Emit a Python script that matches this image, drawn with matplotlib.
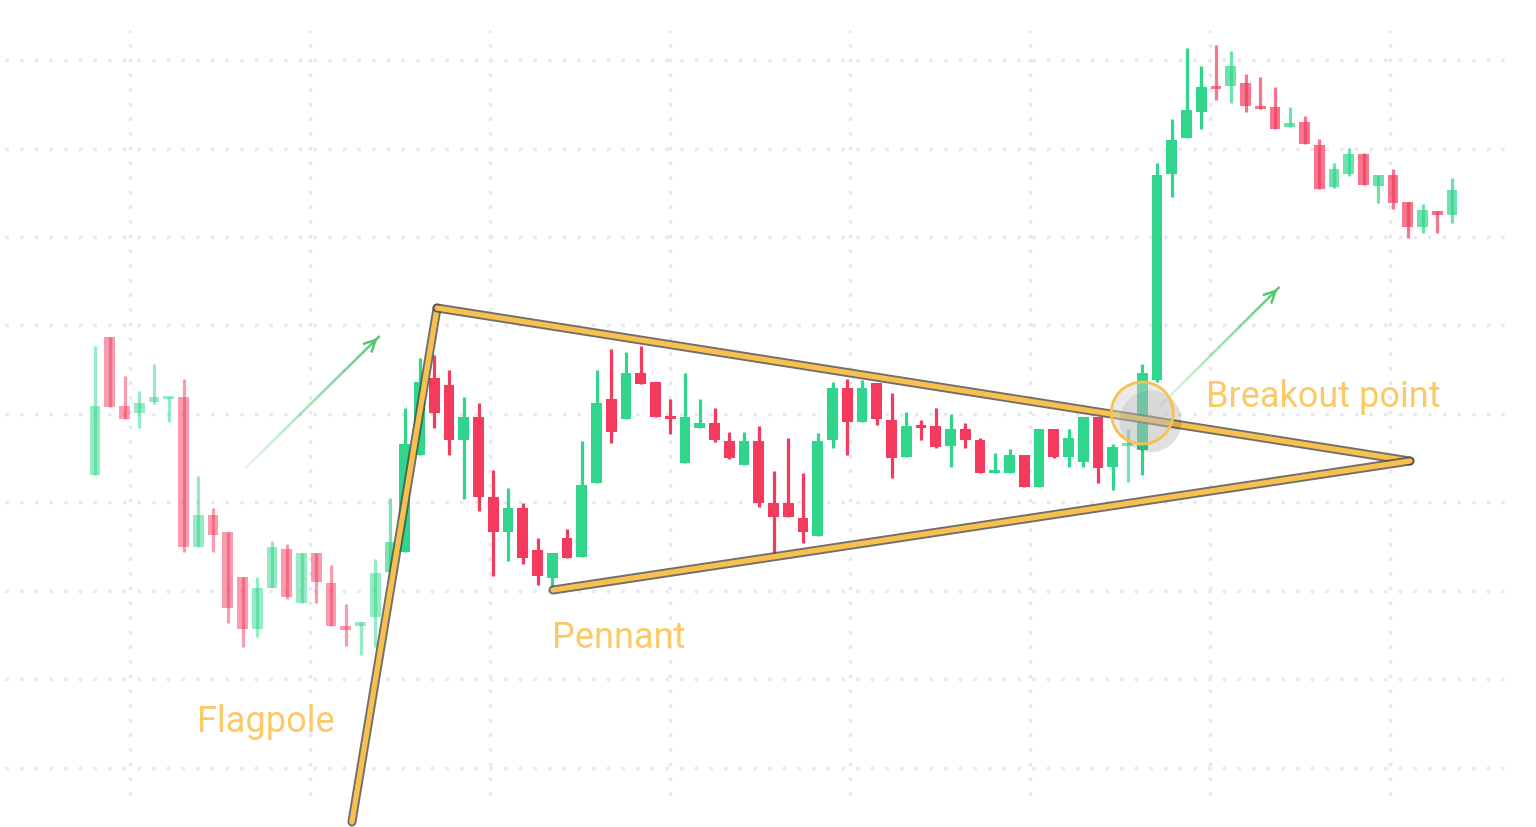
import matplotlib
matplotlib.use("Agg")
import matplotlib.pyplot as plt
import matplotlib.patheffects as pe
from matplotlib.patches import Ellipse
from matplotlib.collections import LineCollection
import numpy as np

# OHLC, one candle per index
opens = [42.5, 56.3, 49.4, 48.7, 49.8, 50.1, 50.3, 35.3, 38.5, 36.8,
         32.3, 27.1, 31.2, 35.1, 29.7, 34.7, 31.7, 27.4, 27.4, 28.3,
         32.8, 34.8, 44.5, 52.2, 51.5, 46.0, 48.3, 40.3, 36.8, 39.2,
         35.0, 32.2, 36.2, 34.3, 41.7, 50.1, 48.1, 52.7, 51.8, 48.3,
         43.7, 47.2, 47.7, 45.9, 43.5, 45.9, 39.7, 39.7, 38.2, 36.4,
         46.0, 51.2, 47.8, 51.7, 48.0, 44.3, 47.4, 47.4, 45.4, 47.1,
         46.0, 42.7, 42.7, 44.5, 41.3, 47.1, 44.3, 43.8, 48.3, 43.3,
         45.4, 45.0, 52.0, 72.6, 76.2, 78.8, 81.4, 81.4, 81.7, 79.3,
         79.3, 77.3, 77.8, 75.5, 71.3, 72.6, 74.6, 71.4, 72.5, 69.8,
         67.3, 68.9, 68.5]
highs = [55.4, 56.3, 52.4, 50.9, 53.6, 50.3, 52.1, 42.4, 39.2, 36.8,
         32.3, 32.3, 35.9, 35.6, 34.7, 34.7, 33.5, 29.6, 27.8, 34.1,
         40.2, 49.2, 54.2, 54.5, 53.0, 50.3, 49.7, 43.0, 41.2, 39.7,
         36.2, 34.7, 37.1, 45.9, 53.0, 55.1, 54.8, 55.4, 51.8, 50.1,
         52.7, 50.1, 49.2, 46.8, 46.8, 47.4, 42.9, 46.2, 42.7, 46.7,
         51.8, 52.1, 52.0, 51.7, 50.7, 48.8, 48.0, 49.2, 48.6, 47.7,
         46.2, 44.7, 45.1, 44.5, 47.1, 47.1, 47.1, 48.3, 48.3, 45.6,
         47.1, 53.6, 73.7, 78.1, 85.2, 83.4, 85.5, 84.9, 82.6, 82.3,
         81.3, 79.3, 78.4, 76.1, 73.7, 75.2, 74.7, 72.5, 73.1, 69.8,
         69.6, 68.9, 72.2]
lows = [42.5, 49.3, 48.1, 47.2, 49.6, 47.8, 34.8, 35.3, 34.8, 27.7,
        25.3, 26.3, 31.2, 30.1, 29.7, 29.7, 27.4, 25.4, 24.5, 25.3,
        32.0, 34.8, 44.5, 47.2, 44.5, 40.1, 38.9, 32.4, 33.9, 33.6,
        31.5, 31.2, 34.2, 34.3, 41.7, 45.7, 48.1, 51.6, 48.3, 46.6,
        43.7, 47.2, 45.8, 44.1, 43.5, 39.3, 34.7, 38.3, 35.7, 36.4,
        45.2, 44.5, 47.8, 47.5, 42.2, 44.3, 46.0, 45.2, 43.3, 45.2,
        42.7, 42.7, 42.7, 41.3, 41.3, 44.2, 43.3, 43.3, 41.7, 41.0,
        41.8, 42.5, 51.8, 70.3, 76.2, 77.1, 80.0, 79.7, 78.8, 79.1,
        77.1, 77.3, 75.6, 71.1, 71.2, 72.4, 71.5, 69.7, 69.1, 66.2,
        66.7, 66.7, 67.7]
closes = [49.4, 49.3, 48.1, 49.7, 50.3, 50.3, 35.3, 38.5, 36.5, 29.2,
          27.1, 31.2, 35.3, 30.3, 34.7, 31.8, 27.4, 27.0, 27.8, 32.7,
          35.8, 45.6, 51.8, 48.7, 46.0, 48.3, 40.3, 36.8, 39.2, 34.2,
          32.4, 34.7, 34.2, 41.5, 49.7, 46.8, 52.7, 51.6, 48.3, 48.1,
          48.3, 47.7, 46.0, 44.2, 45.9, 39.7, 38.3, 38.3, 36.8, 45.9,
          51.2, 47.8, 51.2, 48.1, 44.2, 47.4, 47.2, 45.3, 47.1, 46.0,
          42.7, 43.0, 44.5, 41.3, 47.1, 44.3, 46.2, 48.3, 43.2, 45.3,
          45.7, 52.7, 72.5, 76.0, 79.0, 81.3, 81.1, 83.4, 79.4, 79.1,
          77.1, 77.7, 75.6, 71.1, 73.1, 74.6, 71.5, 72.5, 69.7, 67.3,
          69.0, 68.5, 71.0]

# pattern drawing: flagpole foot, peak, pennant low, apex (candle index, price)
pole_x = [17.42, 23.19]
pole_y = [7.8, 59.2]
upper_x = [23.19, 89.15]
upper_y = [59.2, 43.9]
lower_x = [31.05, 89.15]
lower_y = [31.0, 43.9]
breakout = (71.0, 48.7)

labels = ["Flagpole", "Pennant", "Breakout point"]
label_pos = [(6.9, 17.8), (31.0, 26.2), (75.3, 50.3)]

GREEN = "#2fd68b"
RED = "#f43b5d"
GOLD = "#f8c04c"
TEXT = "#fbca68"
GRID = "#e6e6f9"

fig = plt.figure(figsize=(15.36, 8.27), dpi=100)
ax = fig.add_axes([0, 0, 1, 1])
ax.set_xlim(-95 / 14.75, (1536 - 95) / 14.75)
ax.set_ylim(7.3, 90.0)
ax.axis("off")

# dotted grid
for gx in np.arange(2.37, 97, 12.2):
    ax.plot([gx, gx], [10.5, 87], color=GRID, lw=2.4, ls=(0, (1, 3.4)), zorder=0)
for gy in np.arange(84.0, 10, -8.85):
    ax.plot([-6.1, 95.5], [gy, gy], color=GRID, lw=2.4, ls=(0, (1, 3.4)), zorder=0)

# candles
n = len(opens)
xs = np.arange(n)
for i in range(n):
    up = closes[i] >= opens[i]
    col = GREEN if up else RED
    if i <= 19:
        a = 0.5
    elif i == 20 or i == 70:
        a = 0.65
    elif i >= 76:
        a = 0.7
    else:
        a = 1.0
    ax.plot([xs[i], xs[i]], [lows[i], highs[i]], color=col, lw=2.3,
            alpha=a, solid_capstyle="butt", zorder=2)
    lo = min(opens[i], closes[i])
    h = max(abs(closes[i] - opens[i]), 0.35)
    ax.bar(xs[i], h, bottom=lo, width=0.74, color=col, alpha=a,
           linewidth=0, zorder=2)

# pattern lines
outline = [pe.Stroke(linewidth=6.5, foreground="#4a4a4a", alpha=0.8), pe.Normal()]
for lx, ly in [(pole_x, pole_y), (upper_x, upper_y), (lower_x, lower_y)]:
    ax.plot(lx, ly, color=GOLD, lw=3.8, solid_capstyle="round",
            solid_joinstyle="round", path_effects=outline, zorder=4)

# green arrows with fading tails
def fade_arrow(x0, y0, x1, y1):
    t = np.linspace(0, 1, 30)
    px = x0 + (x1 - x0) * t
    py = y0 + (y1 - y0) * t
    segs = [[(px[k], py[k]), (px[k + 1], py[k + 1])] for k in range(len(t) - 1)]
    cols = [(0.33, 0.78, 0.45, 0.15 + 0.85 * t[k]) for k in range(len(t) - 1)]
    ax.add_collection(LineCollection(segs, colors=cols, linewidths=1.8, zorder=3))
    ax.annotate("", xy=(x1, y1), xytext=(px[-3], py[-3]),
                arrowprops=dict(arrowstyle="->,head_length=0.8,head_width=0.4",
                                color="#55c774", lw=1.8), zorder=3)

fade_arrow(10.2, 43.2, 19.3, 56.4)
fade_arrow(72.2, 49.4, 80.3, 61.3)

# breakout circle with shadow
circ = Ellipse(breakout, width=62 / 14.75, height=6.2, facecolor=(0.82, 0.82, 0.82, 0.45),
               edgecolor=GOLD, lw=2.0, zorder=5,
               path_effects=[pe.SimplePatchShadow(offset=(6, -6), shadow_rgbFace="#000000",
                                                  alpha=0.12), pe.Normal()])
ax.add_patch(circ)

for txt, (tx, ty) in zip(labels, label_pos):
    ax.text(tx, ty, txt, color=TEXT, fontsize=26, family="Roboto",
            ha="left", va="center", zorder=6)

fig.savefig("out.png", dpi=100, facecolor="white")
